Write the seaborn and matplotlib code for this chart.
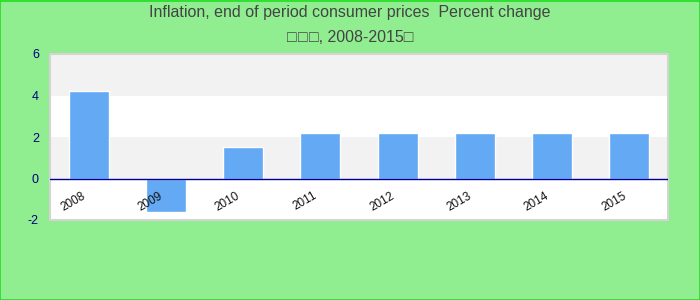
import matplotlib
matplotlib.use("Agg")
import matplotlib.pyplot as plt
import seaborn as sns
import pandas as pd
from matplotlib.patches import Rectangle

years = ["2008", "2009", "2010", "2011", "2012", "2013", "2014", "2015"]
values = [4.2, -1.6, 1.5, 2.2, 2.2, 2.2, 2.2, 2.2]
yticks = [-2, 0, 2, 4, 6]
title_line1 = "Inflation, end of period consumer prices  Percent change"
title_line2 = "\u25a1\u200a\u25a1\u200a\u25a1, 2008-2015\u25a1"

df = pd.DataFrame({"year": years, "value": values})

sns.set_style("white")
plt.rcParams["font.family"] = ["Liberation Sans", "DejaVu Sans"]

fig = plt.figure(figsize=(7, 3), dpi=100, facecolor="#90ee90")
fig.patches.append(Rectangle((0.0007, 0.001), 0.9986, 0.997, transform=fig.transFigure,
                             fill=False, edgecolor="#22dd22", linewidth=1.2, zorder=10))
ax = fig.add_axes([50 / 700, 80 / 300, 618 / 700, 166 / 300])
ax.set_facecolor("white")

# alternating bands
for i, (lo, hi) in enumerate(zip(yticks[:-1], yticks[1:])):
    if i % 2 == 1:
        ax.axhspan(lo, hi, color="#f2f2f2", zorder=0, linewidth=0)

sns.barplot(data=df, x="year", y="value", color="#63a9f4", saturation=1,
            width=0.52, ax=ax, zorder=2)
ax.axhline(0, color="#000099", linewidth=1, zorder=3)

ax.set_ylim(-2, 6)
ax.set_xlim(-0.5, len(years) - 0.5)
ax.set_yticks(yticks)
ax.set_yticklabels([str(t) for t in yticks], color="#000080", fontsize=9)
ax.tick_params(axis="y", length=0, pad=8)
ax.set_xticks([])
ax.set_xlabel("")
ax.set_ylabel("")

for i, y in enumerate(years):
    ax.text(i - 0.05, -0.8, y, rotation=30, ha="right", va="center",
            fontsize=8.5, color="#111111", zorder=4, rotation_mode="anchor")

for s in ax.spines.values():
    s.set_color("#d4d4d4")
    s.set_linewidth(1.5)

fig.text(0.5, 1 - 13 / 300, title_line1, ha="center", va="center", fontsize=11.5, color="#444444")
fig.text(0.5, 1 - 38 / 300, title_line2, ha="center", va="center", fontsize=11.5, color="#444444")

fig.savefig("out.png", dpi=100, facecolor=fig.get_facecolor())
